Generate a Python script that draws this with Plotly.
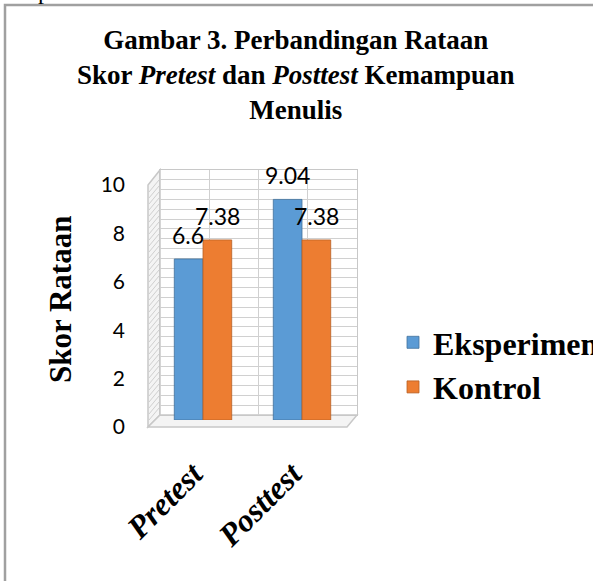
import plotly.graph_objects as go

# ---- data ----
categories = ["Pretest", "Posttest"]
series_names = ["Eksperimen", "Kontrol"]
eksperimen = [6.6, 9.04]
kontrol = [7.38, 7.38]
y_ticks = [0, 2, 4, 6, 8, 10]

W, H = 593, 581
def fx(px): return px / W
def fy(py): return 1 - py / H

BLUE = "#5B9BD5"
ORANGE = "#ED7D31"
SERIF = "Liberation Serif, Times New Roman, serif"
SANS = "Lato, Open Sans, sans-serif"

fig = go.Figure()

# back wall subplot (x, y) - empty, only grid
fig.add_trace(go.Scatter(x=[], y=[], xaxis="x", yaxis="y", showlegend=False, hoverinfo="skip"))
# tick label subplot (x3, y3)
fig.add_trace(go.Scatter(x=[], y=[], xaxis="x3", yaxis="y3", showlegend=False, hoverinfo="skip"))

# bars on x2/y2 (drawn on top)
for name, vals, col, edge in [(series_names[0], eksperimen, BLUE, "#41719C"),
                              (series_names[1], kontrol, ORANGE, "#B85F23")]:
    fig.add_trace(go.Bar(
        x=categories, y=vals, name=name, xaxis="x2", yaxis="y2",
        marker=dict(color=col, line=dict(width=0.8, color=edge)),
        cliponaxis=False,
    ))

# data labels through the bar axes
annotations = []
for vals, xs in [(eksperimen, -15), (kontrol, 14)]:
    for c, v in zip(categories, vals):
        annotations.append(dict(
            x=c, y=v, xref="x2", yref="y2", text=f"{v:g}", showarrow=False,
            xshift=xs, yshift=24, yanchor="middle",
            font=dict(family=SANS, size=23, color="#000000"),
        ))

# y axis title
annotations.append(dict(
    x=fx(60), y=fy(300), xref="paper", yref="paper", text="<b>Skor Rataan</b>",
    textangle=-90, showarrow=False, xanchor="center", yanchor="middle",
    font=dict(family=SERIF, size=31, color="#000000"),
))

# chart title
annotations.append(dict(
    x=fx(296), y=fy(23), xref="paper", yref="paper",
    text="<b>Gambar 3. Perbandingan Rataan<br>Skor <i>Pretest</i> dan <i>Posttest</i> Kemampuan<br>Menulis</b>",
    showarrow=False, xanchor="center", yanchor="top", align="center",
    font=dict(family=SERIF, size=27, color="#000000"),
))

# cut-off letter of the surrounding document text
annotations.append(dict(
    x=fx(44), y=fy(6), xref="paper", yref="paper", text="p", showarrow=False,
    xanchor="center", yanchor="bottom", font=dict(family=SERIF, size=24, color="#000000"),
))

shapes = [
    # document frame
    dict(type="rect", xref="paper", yref="paper", x0=fx(5), y0=fy(5), x1=fx(900), y1=fy(900),
         line=dict(color="#a0a0a0", width=2.5), fillcolor="rgba(0,0,0,0)", layer="above"),
    # left wall
    dict(type="path", xref="paper", yref="paper",
         path=f"M{fx(148)},{fy(427)} L{fx(148)},{fy(185)} L{fx(160)},{fy(170)} L{fx(160)},{fy(415)} Z",
         line=dict(color="#c8c8c8", width=1.5), fillcolor="#f4f4f4", layer="below"),
    # floor
    dict(type="path", xref="paper", yref="paper",
         path=f"M{fx(148)},{fy(427)} L{fx(160)},{fy(415)} L{fx(357)},{fy(415)} L{fx(347)},{fy(427)} Z",
         line=dict(color="#c8c8c8", width=1.5), fillcolor="#f4f4f4", layer="below"),
]
# hatch on the left wall
for k in range(40):
    y0 = 192 + k * 6
    if y0 > 424:
        break
    shapes.append(dict(type="line", xref="paper", yref="paper",
                       x0=fx(149), y0=fy(y0), x1=fx(159), y1=fy(y0 - 12),
                       line=dict(color="#cfcfcf", width=1), layer="below"))

fig.update_layout(
    width=W, height=H,
    margin=dict(l=0, r=0, t=0, b=0, autoexpand=False),
    paper_bgcolor="white", plot_bgcolor="rgba(0,0,0,0)",
    barmode="group", bargap=0.42, bargroupgap=0,
    # back wall
    xaxis=dict(domain=[fx(160), fx(357)], range=[-0.5, 1.5], dtick=0.5, tick0=-0.5,
               showgrid=True, gridcolor="#d0d0d0", gridwidth=1, showticklabels=False,
               zeroline=False, showline=True, linecolor="#c8c8c8", mirror=True, anchor="y"),
    yaxis=dict(domain=[fy(415), fy(170)], range=[0, 10], dtick=0.4, tick0=0,
               showgrid=True, gridcolor="#d0d0d0", gridwidth=1, showticklabels=False,
               zeroline=False, showline=True, linecolor="#c8c8c8", mirror=True, anchor="x"),
    # bars
    xaxis2=dict(domain=[fx(153.5), fx(351.5)], type="category", anchor="y2",
                showgrid=False, zeroline=False, showline=False, ticks="",
                tickangle=-45, ticklabelstandoff=28, ticklabelshift=-10,
                tickfont=dict(family=SERIF, size=32, color="#000000", weight="bold", style="italic")),
    yaxis2=dict(domain=[fy(420), fy(176)], range=[0, 10], anchor="x2",
                showgrid=False, zeroline=False, showline=False, showticklabels=False),
    # y tick labels
    xaxis3=dict(domain=[fx(126), fx(127)], visible=False, anchor="y3"),
    yaxis3=dict(domain=[fy(427), fy(185)], range=[0, 10], anchor="x3",
                tickvals=y_ticks, ticktext=[str(t) for t in y_ticks],
                showgrid=False, zeroline=False, showline=False, ticks="",
                tickfont=dict(family=SANS, size=21, color="#000000")),
    legend=dict(x=fx(393), y=fy(315), xanchor="left", yanchor="top",
                bgcolor="rgba(0,0,0,0)", borderwidth=0,
                font=dict(family=SERIF, size=32, color="#000000", weight="bold")),
    annotations=annotations,
    shapes=shapes,
)

fig.write_html("out.html", config={"displayModeBar": False},
               post_script="document.body.style.margin='0px';")
